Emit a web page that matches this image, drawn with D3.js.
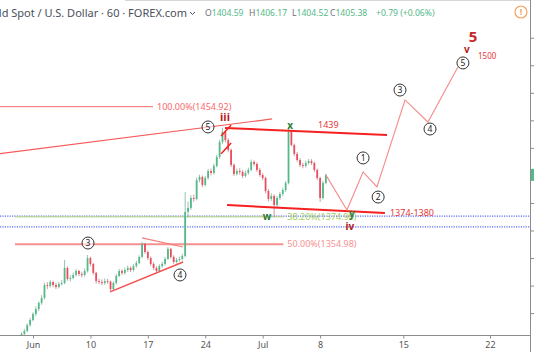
<!DOCTYPE html>
<html><head><meta charset="utf-8">
<script src="https://cdn.jsdelivr.net/npm/d3@7"></script>
<style>html,body{margin:0;padding:0;background:#fff;overflow:hidden}text{font-family:"Noto Sans",sans-serif}</style>
</head><body><svg id="c" width="534" height="352"></svg>
<script>
// ---------- data ----------
const xTickLabels = ["Jun","10","17","24","Jul","8","15","22"];
const xTickSessions = [0,5,10,15,20,25,30,35];
const priceTicks = [1305,1325,1345,1365,1385,1405,1425,1445,1465,1485,1505];
const barStart = -1, barsPerSession = 4;
const firstOpen = 1287.5;
const closes = [1289.9,1292.0,1296.4,1300.0,1304.4,1308.0,1312.4,1316.0,1325.4,1324.8,
1327.6,1325.4,1324.0,1326.2,1326.9,1337.8,1329.8,1330.5,1332.7,1335.6,
1333.4,1332.7,1335.6,1345.0,1340.7,1334.2,1328.3,1327.6,1326.9,1328.3,
1327.9,1322.5,1326.9,1332.0,1335.6,1334.2,1336.3,1337.8,1336.3,1339.2,
1341.4,1345.8,1355.2,1349.4,1345.0,1340.7,1337.8,1335.6,1339.2,1340.7,
1344.3,1351.6,1345.8,1342.1,1343.6,1344.3,1346.5,1378.5,1381.4,1388.6,
1387.9,1401.7,1403.9,1398.1,1403.1,1408.2,1406.8,1411.9,1418.4,1429.3,
1436.6,1430.7,1423.5,1412.6,1406.1,1408.2,1407.5,1404.6,1406.8,1409.0,
1414.8,1413.3,1409.0,1405.3,1403.1,1393.7,1387.9,1390.1,1383.5,1388.6,
1391.5,1394.4,1399.5,1436.6,1427.1,1420.6,1416.2,1412.6,1411.9,1414.0,
1415.5,1414.0,1409.0,1403.1,1388.6,1399.5,1405.4];
const highs = [1291,1293.5,1297.5,1301.5,1305.6,1309.8,1313.5,1318,1327,1327.5,
1329,1328.5,1327,1327.8,1329,1343.6,1339,1332.5,1334.5,1337,
1336.5,1335,1337.5,1347.2,1346,1341.5,1335,1330,1329.5,1330.2,
1329.8,1328.6,1328,1333.5,1337,1336.8,1338,1339.5,1339,1340.6,
1343,1347,1356.7,1356,1350.5,1346.2,1342,1339,1340.5,1342.2,
1345.8,1353,1352.4,1347,1345,1346,1348,1393.0,1386,1390.5,
1391,1403.5,1405.5,1405,1404.6,1409.8,1410,1413.5,1420,1431,
1439.5,1438,1432,1424.6,1413.8,1410,1410.2,1408.8,1408.5,1410.6,
1416.5,1416,1414.6,1410.5,1406.6,1404.2,1395,1392,1391.2,1390,
1393,1396,1401,1440.2,1438,1428.2,1422,1417.5,1414.2,1415.8,
1417,1416.8,1415,1410,1404,1401,1406.2];
const lows = [1286,1288.5,1291,1295,1299,1302.8,1306.5,1311,1315,1322.6,
1323.5,1323.8,1322.5,1323,1325,1326,1328.5,1328,1329.5,1331.5,
1331.8,1331,1331.5,1334.5,1339,1332.8,1326.5,1326,1325.2,1325.5,
1326.2,1321.1,1321.5,1325.8,1331,1332.6,1333,1335,1334.8,1335.2,
1338,1340.5,1344.8,1348,1343.5,1339.3,1336.2,1334.5,1334.8,1338,
1339.5,1343.5,1344.6,1340.8,1341,1342.4,1343.2,1345.5,1374.5,1380,
1385.8,1386.8,1400,1396.5,1397,1402,1405,1405.6,1410.8,1417,
1428,1429,1421.8,1411,1404.5,1404.8,1405.5,1403,1403.5,1405.5,
1408,1411.8,1407.6,1404,1401.5,1392,1386.2,1386.5,1374.8,1382,
1387.2,1390,1393,1398.5,1426,1419,1414.8,1411,1410.2,1410.6,
1412.8,1412.6,1407.5,1401.6,1385.7,1387.5,1398.5];
// fib / levels
const fibLevels = [
  {label:"100.00%(1454.92)", price:1454.92, s0:-2.9, s1:10.45, color:"#f86a6a", w:1},
  {label:"50.00%(1354.98)",  price:1354.98, s0:-1.57, s1:21.8, color:"#f79191", w:2},
  {label:"38.20%(1374.90)",  price:1374.90, s0:-1.57, s1:21.8, color:"#b5d77a", w:1}
];
const blueLevels = [1375.5, 1367.6];
// trend lines [s0,p0,s1,p1,color,width]
const trendLines = [
  [-2.87,1420.8,20.82,1446.0,"#f65a5a",1.2],
  [16.72,1439.4,29.06,1434.4,"#f52020",2],
  [16.9,1383.5,28.94,1377.7,"#f52020",2],
  [16.38,1433.6,17.25,1441.6,"#f52020",1.5],
  [16.38,1420.8,17.25,1428.5,"#f52020",1.5],
  [6.71,1320.4,13.07,1342.1,"#f55050",1.5],
  [9.49,1359.6,13.07,1353.0,"#f77a7a",1.2]
];
const projection = [[25.5,1405.4],[26.75,1379.9],[27.68,1407.5],[28.48,1396.6],[30.1,1459.8],[31.42,1443.8],[33.15,1483.7]];
const circleLabels = [
  ["3",4.79,1355.9],["4",12.8,1332.7],["5",15.24,1440.2],
  ["1",27.68,1417.7],["2",28.55,1389.3],["3",29.81,1467.0],["4",31.54,1438.7],["5",33.44,1486.7]
];
const waveLabels = [
  ["iii",16.72,1447.4,"#b71c1c",11,"bold","middle"],
  ["x",22.39,1440.9,"#2e7d32",10,"bold","middle"],
  ["w",20.38,1375.5,"#2e7d32",10,"bold","middle"],
  ["y",27.04,1377.0,"#2e7d32",10,"bold","middle"],
  ["iv",26.92,1367.6,"#b71c1c",10,"bold","middle"],
  ["v",33.67,1496.1,"#b71c1c",10,"bold","middle"],
  ["5",34.02,1505.5,"#c62828",15,"bold","middle"],
  ["1500",34.31,1491.7,"#e53935",8,"normal","start"],
  ["1439",24.82,1441.6,"#e53935",9,"normal","start"],
  ["1374-1380",29.23,1377.7,"#e53935",9,"normal","start"]
];
const ohlc = [["O","1404.59"],["H","1406.17"],["L","1404.52"],["C","1405.38"],["","+0.79 (+0.06%)"]];
const ohlcX = [205,249,292,330,376];

// ---------- scales ----------
const svg = d3.select("#c");
const x = d3.scaleLinear().domain([0,25.6,35]).range([33,327,490]);
const y = d3.scaleLinear().domain([1289.1,1532.4]).range([335,0]);
const plotW = 530, plotH = 335;

svg.append("defs").append("clipPath").attr("id","clip")
  .append("rect").attr("x",0).attr("y",0).attr("width",plotW).attr("height",plotH);
const plot = svg.append("g").attr("clip-path","url(#clip)");

// blue dotted levels
plot.selectAll(".blue").data(blueLevels).join("line")
  .attr("x1",0).attr("x2",plotW).attr("y1",d=>y(d)).attr("y2",d=>y(d))
  .attr("stroke","#5a6cf5").attr("stroke-width",1.3).attr("stroke-dasharray","1.2,1.2");

// fib levels
fibLevels.forEach(f=>{
  plot.append("line").attr("x1",x(f.s0)).attr("x2",x(f.s1)).attr("y1",y(f.price)).attr("y2",y(f.price))
    .attr("stroke",f.color).attr("stroke-width",f.w);
  plot.append("text").attr("x",x(f.s1)+4).attr("y",y(f.price)).attr("dy","0.35em")
    .attr("font-size",9).attr("fill",f.color === "#b5d77a" ? "#a3cc5e" : f.color).text(f.label);
});

// candles
const candles = closes.map((c,i)=>({
  s: barStart + i/barsPerSession,
  o: i===0 ? firstOpen : closes[i-1], c, h: highs[i], l: lows[i]
}));
const bw = (x(1)-x(0))/barsPerSession*0.62;
const cg = plot.append("g");
cg.selectAll("line").data(candles).join("line")
  .attr("x1",d=>x(d.s)).attr("x2",d=>x(d.s)).attr("y1",d=>y(d.h)).attr("y2",d=>y(d.l))
  .attr("stroke",d=>d.c>=d.o?"#6aa88a":"#c56a72").attr("stroke-width",0.7);
cg.selectAll("rect").data(candles).join("rect")
  .attr("x",d=>x(d.s)-bw/2).attr("width",bw)
  .attr("y",d=>y(Math.max(d.o,d.c))).attr("height",d=>Math.max(0.8,Math.abs(y(d.o)-y(d.c))))
  .attr("fill",d=>d.c>=d.o?"#53b987":"#eb4d5c");

// trend lines
plot.selectAll(".tl").data(trendLines).join("line")
  .attr("x1",d=>x(d[0])).attr("y1",d=>y(d[1])).attr("x2",d=>x(d[2])).attr("y2",d=>y(d[3]))
  .attr("stroke",d=>d[4]).attr("stroke-width",d=>d[5]);

// projection path
plot.append("path").datum(projection)
  .attr("d",d3.line().x(d=>x(d[0])).y(d=>y(d[1])))
  .attr("fill","none").attr("stroke","#f78a8a").attr("stroke-width",1.1);

// circled labels
const cl = plot.selectAll(".cl").data(circleLabels).join("g")
  .attr("transform",d=>`translate(${x(d[1])},${y(d[2])})`);
cl.append("circle").attr("r",6).attr("fill","#fff").attr("fill-opacity",0.6)
  .attr("stroke","#333").attr("stroke-width",1);
cl.append("text").attr("text-anchor","middle").attr("dy","0.35em").attr("font-size",8.5)
  .attr("fill","#222").text(d=>d[0]);

// wave text labels
plot.selectAll(".wl").data(waveLabels).join("text")
  .attr("x",d=>x(d[1])).attr("y",d=>y(d[2])).attr("dy","0.35em")
  .attr("text-anchor",d=>d[6]).attr("font-size",d=>d[4]).attr("font-weight",d=>d[5])
  .attr("fill",d=>d[3]).text(d=>d[0]);

// ---------- axes ----------
svg.append("line").attr("x1",0).attr("x2",plotW).attr("y1",plotH+0.5).attr("y2",plotH+0.5)
  .attr("stroke","#8c8c8c").attr("stroke-width",1);
svg.append("line").attr("x1",plotW+0.5).attr("x2",plotW+0.5).attr("y1",0).attr("y2",352)
  .attr("stroke","#8c8c8c").attr("stroke-width",1);
svg.append("line").attr("x1",125).attr("x2",plotW).attr("y1",0.5).attr("y2",0.5)
  .attr("stroke","#d6d6d6").attr("stroke-width",1);

const xa = svg.append("g").attr("transform",`translate(0,${plotH+0.5})`)
  .call(d3.axisBottom(x).tickValues(xTickSessions).tickFormat((d,i)=>xTickLabels[i]).tickSize(3).tickPadding(3));
xa.select(".domain").remove();
xa.selectAll("line").attr("stroke","#8c8c8c");
xa.selectAll("text").attr("font-size",9).attr("fill","#555").attr("font-family","Noto Sans, sans-serif");

const ya = svg.append("g").attr("transform",`translate(${plotW+0.5},0)`)
  .call(d3.axisRight(y).tickValues(priceTicks).tickFormat("").tickSize(4));
ya.select(".domain").remove();
ya.selectAll("line").attr("stroke","#8c8c8c");

// current price marker
const last = closes[closes.length-1];
svg.append("rect").attr("x",plotW+1).attr("y",y(last)-6).attr("width",6).attr("height",12).attr("fill","#53b987");

// ---------- header ----------
svg.append("text").attr("x",187).attr("y",13).attr("dy","0.35em").attr("text-anchor","end")
  .attr("font-size",11).attr("fill","#4a4f5a").text("Gold Spot / U.S. Dollar · 60 · FOREX.com");
svg.append("path").attr("d","M190,12 l2.5,2.5 l2.5,-2.5").attr("fill","none").attr("stroke","#4a4f5a").attr("stroke-width",1);
ohlc.forEach((o,i)=>{
  const t = svg.append("text").attr("x",ohlcX[i]).attr("y",13).attr("dy","0.35em").attr("font-size",8.6);
  if(o[0]) t.append("tspan").attr("fill","#6b6f78").text(o[0]);
  t.append("tspan").attr("fill","#53b987").text(o[1]);
});
svg.append("circle").attr("cx",521).attr("cy",12).attr("r",6).attr("fill","none").attr("stroke","#f7a15a").attr("stroke-width",1.2);
svg.append("text").attr("x",521).attr("y",12).attr("dy","0.35em").attr("text-anchor","middle")
  .attr("font-size",9).attr("font-weight","bold").attr("fill","#f7a15a").text("!");
</script></body></html>
